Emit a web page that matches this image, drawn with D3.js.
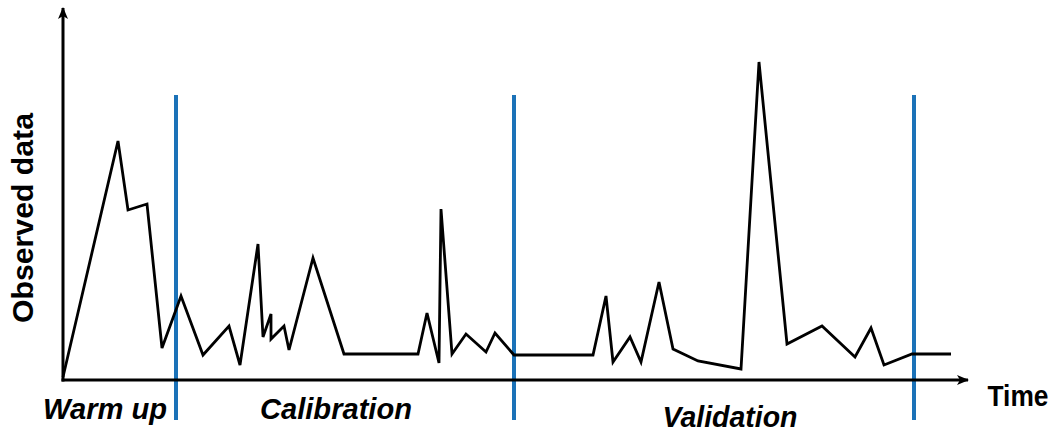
<!DOCTYPE html>
<html>
<head>
<meta charset="utf-8">
<script src="https://cdn.jsdelivr.net/npm/d3@7"></script>
<style>
  html, body { margin: 0; padding: 0; background: #fff; }
  svg { display: block; }
  text { font-family: "Liberation Sans", Arial, sans-serif; font-weight: bold; fill: #000; }
</style>
</head>
<body>
<svg id="chart" width="1057" height="433"></svg>
<script>
// Observed series (time, value)
const times  = [0, 55, 65, 84, 99, 118, 140, 166, 177, 195, 200, 208, 208, 221, 226, 250, 281, 355, 364, 376, 378, 389, 403, 423, 432, 451, 530, 543, 550, 567, 578, 596, 610, 635, 678, 696, 724, 759, 792, 808, 821, 849, 888];
const values = [3, 239, 170, 176, 32, 84, 25, 54, 15, 136, 43, 66, 41, 54, 30, 122, 26, 26, 67, 17, 171, 26, 46, 28, 47, 25, 25, 84, 18, 43, 18, 98, 31, 19, 11, 318, 36, 54, 23, 52, 15, 26, 26];
// Period boundaries (time)
const boundaries = [113, 451, 851];
// Period labels
const periodLabels = ["Warm up", "Calibration", "Validation"];
const xLabel = "Time";
const yLabel = "Observed data";

const svg = d3.select("#chart");
const x = d3.scaleLinear().domain([0, 905]).range([63, 968]);
const y = d3.scaleLinear().domain([0, 372]).range([380, 8]);

const data = times.map((t, i) => ({ t, v: values[i] }));

// arrow marker
const defs = svg.append("defs");
defs.append("marker")
  .attr("id", "arrow")
  .attr("viewBox", "0 0 12 10")
  .attr("refX", 11).attr("refY", 5)
  .attr("markerWidth", 12).attr("markerHeight", 10)
  .attr("markerUnits", "userSpaceOnUse")
  .attr("orient", "auto")
  .append("path")
  .attr("d", "M0,0 L12,5 L0,10 L3,5 Z")
  .attr("fill", "#000");

// boundaries (blue)
svg.append("g").selectAll("line").data(boundaries).join("line")
  .attr("x1", d => x(d)).attr("x2", d => x(d))
  .attr("y1", y(285)).attr("y2", y(-40))
  .attr("stroke", "#1b72b8").attr("stroke-width", 4);

// series line
svg.append("path")
  .datum(data)
  .attr("fill", "none")
  .attr("stroke", "#000")
  .attr("stroke-width", 2.8)
  .attr("stroke-linejoin", "miter")
  .attr("d", d3.line().x(d => x(d.t)).y(d => y(d.v)));

// axes
svg.append("line")
  .attr("x1", x(0) - 1.5).attr("y1", y(0)).attr("x2", x(905)).attr("y2", y(0))
  .attr("stroke", "#000").attr("stroke-width", 3)
  .attr("marker-end", "url(#arrow)");
svg.append("line")
  .attr("x1", x(0)).attr("y1", y(0) + 1.5).attr("x2", x(0)).attr("y2", y(372))
  .attr("stroke", "#000").attr("stroke-width", 3)
  .attr("marker-end", "url(#arrow)");

// period labels
const labelPos = [
  { cx: 105, base: 419, w: 124 },
  { cx: 336, base: 419, w: 152 },
  { cx: 730, base: 427, w: 135 }
];
svg.append("g").selectAll("text").data(periodLabels).join("text")
  .attr("x", (d, i) => labelPos[i].cx)
  .attr("y", (d, i) => labelPos[i].base)
  .attr("text-anchor", "middle")
  .attr("font-style", "italic")
  .attr("font-size", 30)
  .attr("textLength", (d, i) => labelPos[i].w)
  .attr("lengthAdjust", "spacingAndGlyphs")
  .text(d => d);

svg.append("text")
  .attr("x", 1018).attr("y", 406)
  .attr("text-anchor", "middle")
  .attr("font-size", 29)
  .attr("textLength", 61)
  .attr("lengthAdjust", "spacingAndGlyphs")
  .text(xLabel);

svg.append("text")
  .attr("transform", "translate(33,218) rotate(-90)")
  .attr("text-anchor", "middle")
  .attr("font-size", 29)
  .attr("textLength", 210)
  .attr("lengthAdjust", "spacingAndGlyphs")
  .text(yLabel);
</script>
</body>
</html>
